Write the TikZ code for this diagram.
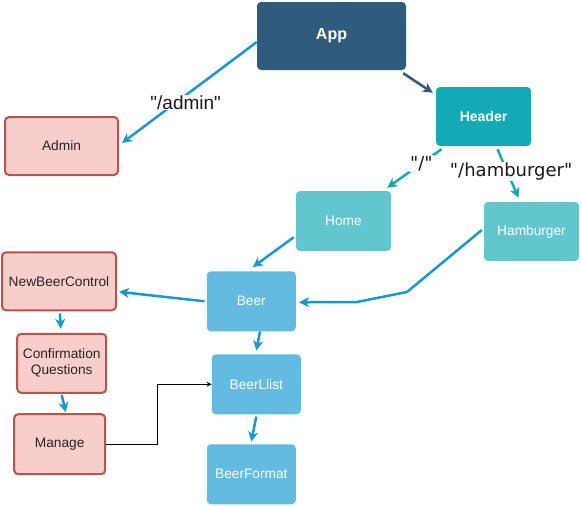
\documentclass[tikz,border=0pt]{standalone}
\usepackage{fontspec}
\setmainfont{Liberation Sans}[Ligatures=TeXOff]
\newfontfamily\routefont{DejaVu Sans}[Ligatures=TeXOff]
\usetikzlibrary{arrows.meta}

\definecolor{appcol}{HTML}{2F5B7C}
\definecolor{headercol}{HTML}{12AAB5}
\definecolor{pagecol}{HTML}{61C6CE}
\definecolor{beercol}{HTML}{64BBE2}
\definecolor{linkcol}{HTML}{1699D3}
\definecolor{redfill}{HTML}{F8CECC}
\definecolor{redline}{HTML}{B85450}

\begin{document}
\begin{tikzpicture}[x=1pt,y=-1pt,
    box/.style={rounded corners=4pt, align=center, inner sep=0pt,
      font=\fontsize{13.7}{16}\selectfont},
    appbox/.style={box, fill=appcol, text=white, font=\fontsize{16}{18}\selectfont\bfseries},
    headbox/.style={box, fill=headercol, text=white, font=\fontsize{14}{16}\selectfont\bfseries},
    pagebox/.style={box, fill=pagecol, text=white},
    beerbox/.style={box, fill=beercol, text=white},
    redbox/.style={box, fill=redfill, draw=redline, line width=2pt, text=black!85},
    link/.style={draw=linkcol, line width=2.5pt, -{Stealth[length=10pt,width=10pt,inset=3pt]}},
    thin link/.style={draw=black, line width=0.8pt, -{Stealth[length=5pt,width=5pt]}},
    route/.style={fill=white, inner sep=1pt, text=black!90}]

    \useasboundingbox (0,0) rectangle (581,506);

    % router part
    \node[appbox, minimum width=149pt, minimum height=68pt] (app) at (331.5,36) {App};
    \node[headbox, minimum width=95pt, minimum height=59pt] (header) at (483.5,116.5) {Header};
    \node[redbox, minimum width=113pt, minimum height=58pt] (admin) at (61.5,146) {Admin};
    \node[pagebox, minimum width=95pt, minimum height=60pt] (home) at (343.5,221) {Home};
    \node[pagebox, minimum width=95pt, minimum height=59pt] (hamburger) at (531.5,231.5) {Hamburger};

    % beer part
    \node[beerbox, minimum width=89pt, minimum height=60pt] (beer) at (251.3,301.3) {Beer};
    \node[beerbox, minimum width=89pt, minimum height=60pt] (beerlist) at (256.3,384.3) {BeerLlist};
    \node[beerbox, minimum width=89pt, minimum height=60pt] (beerformat) at (251.3,474.3) {BeerFormat};

    % control part
    \node[redbox, minimum width=114pt, minimum height=58pt] (newbeer) at (59,281.3) {NewBeerControl};
    \node[redbox, minimum width=89pt, minimum height=59pt] (questions) at (61.7,363.3) {Confirmation\\Questions};
    \node[redbox, minimum width=91pt, minimum height=60pt] (manage) at (59.7,444.2) {Manage};

    % routes
    \draw[link] ([yshift=-6pt]app.west) -- ([xshift=3pt,yshift=3pt]admin.east)
      node[route, pos=0.52, xshift=-1pt, yshift=-8pt, font=\fontsize{19}{21}\selectfont] {"/admin"};
    \draw[link, draw=appcol] ([xshift=-3pt,yshift=-3pt]app.south east) -- ([xshift=-3pt,yshift=-6pt]header.north west);
    \draw[link, draw=headercol] ([xshift=5.7pt,yshift=-3pt]header.south west) -- ([xshift=-4pt,yshift=3pt]home.north east)
      node[route, pos=0.37, font=\routefont\fontsize{18}{20}\selectfont] {"/"};
    \draw[link, draw=headercol] ([xshift=14pt,yshift=-3pt]header.south) -- ([xshift=-13pt,yshift=4pt]hamburger.north)
      node[route, pos=0.46, xshift=4pt, font=\routefont\fontsize{18}{20}\selectfont] {"/hamburger"};

    % children
    \draw[link] ([xshift=-2pt,yshift=14pt]home.south west) -- ([xshift=1.5pt,yshift=4pt]beer.north);
    \draw[link] ([xshift=-2pt,yshift=1.5pt]hamburger.west) -- (407,292) -- (357,302) -- ([xshift=3pt,yshift=-1pt]beer.east);
    \draw[link] ([xshift=-2pt]beer.west) -- ([xshift=2pt,yshift=-10.5pt]newbeer.east);
    \draw[link] ([xshift=1pt,yshift=-2pt]newbeer.south) -- ([xshift=-1pt,yshift=4pt]questions.north);
    \draw[link] ([yshift=-1pt]questions.south) -- ([xshift=6pt,yshift=1pt]manage.north);
    \draw[link] ([xshift=8.7pt]beer.south) -- ([yshift=3.6pt]beerlist.north);
    \draw[link] ([yshift=-2pt]beerlist.south) -- ([yshift=2.5pt]beerformat.north);
    \draw[thin link] (manage.east) -- ++(51,0) |- (beerlist.west);
\end{tikzpicture}
\end{document}
